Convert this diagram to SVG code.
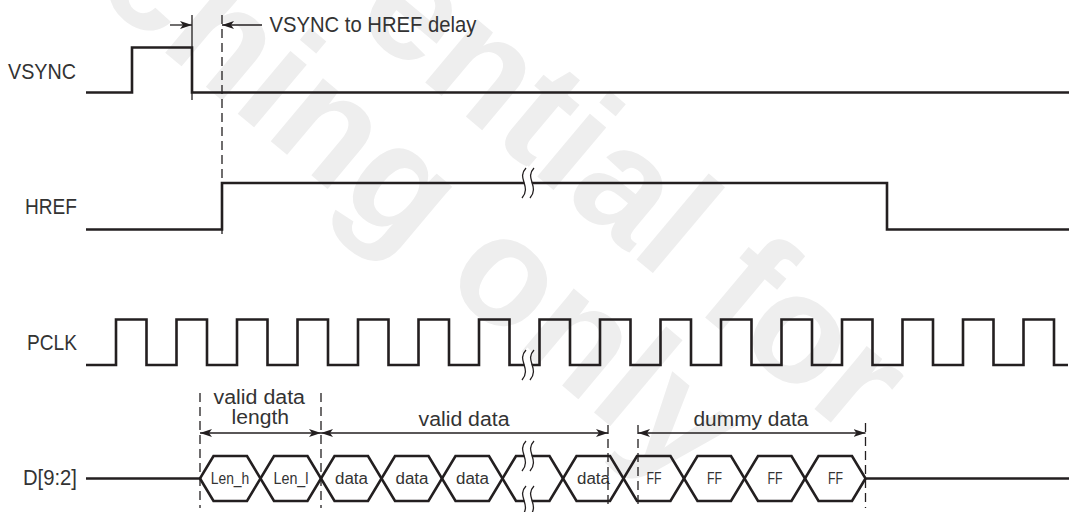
<svg xmlns="http://www.w3.org/2000/svg" width="1079" height="512" viewBox="0 0 1079 512">
<style>
.sig{fill:none;stroke:#231f20;stroke-width:2.6;stroke-linejoin:miter;stroke-linecap:butt}
.thin{fill:none;stroke:#231f20;stroke-width:1.3}
.dash{fill:none;stroke:#231f20;stroke-width:1.3;stroke-dasharray:9 5}
.arr{fill:none;stroke:#231f20;stroke-width:1.3}
.brk{fill:none;stroke:#231f20;stroke-width:1.3}
.brkw{fill:none;stroke:#fff;stroke-width:7}
.lbl{font-family:"Liberation Sans","Noto Sans",sans-serif;font-size:22px;fill:#333}
.ann{font-family:"Liberation Sans","Noto Sans",sans-serif;font-size:20px;fill:#333}
.hx{font-family:"Liberation Sans","Noto Sans",sans-serif;font-size:16px;fill:#333;text-anchor:middle}
.wm{font-family:"Liberation Sans","Noto Sans",sans-serif;font-size:155px;font-weight:bold;fill:#eeeeee}
</style>
<defs>
<marker id="ah" viewBox="0 0 12 8" refX="12" refY="4" markerWidth="12" markerHeight="8" markerUnits="userSpaceOnUse" orient="auto-start-reverse">
<path d="M0,0 L12,4 L0,8 L3,4 Z" fill="#231f20"/>
</marker>
<path id="wave" d="M2,0 C-8,10.5 8,18 -2,30"/>
</defs>
<rect width="1079" height="512" fill="#fff"/>
<g id="watermark">
<text class="wm" transform="translate(351,20) rotate(40)">ential for</text>
<text class="wm" transform="translate(25,-65) rotate(40)">aching only</text>
</g>
<g id="vsync">
<text class="lbl" x="8" y="79" textLength="68" lengthAdjust="spacingAndGlyphs">VSYNC</text>
<path class="sig" d="M86,92.5 H132 V47.5 H192 V92.5 H1069"/>
</g>
<g id="href">
<text class="lbl" x="25" y="214" textLength="52" lengthAdjust="spacingAndGlyphs">HREF</text>
<path class="sig" d="M86,229.5 H222 V183 H887 V229.5 H1069"/>
<g transform="translate(0,168)">
<use href="#wave" x="528" class="brkw"/>
<use href="#wave" x="524" class="brk"/>
<use href="#wave" x="532" class="brk"/>
</g>
</g>
<g id="pclk">
<text class="lbl" x="27" y="350" textLength="50" lengthAdjust="spacingAndGlyphs">PCLK</text>
<path class="sig" d="M86,365 H116 V319.5 H146.5 V365 H176.5 V319.5 H207 V365 H237 V319.5 H267.5 V365 H297.5 V319.5 H328 V365 H358 V319.5 H388.5 V365 H418.5 V319.5 H449 V365 H479 V319.5 H509.5 V365 H539.5 V319.5 H570 V365 H600 V319.5 H630.5 V365 H660.5 V319.5 H691 V365 H721 V319.5 H751.5 V365 H781.5 V319.5 H812 V365 H842 V319.5 H872.5 V365 H902.5 V319.5 H933 V365 H963 V319.5 H993.5 V365 H1023.5 V319.5 H1054 V365 H1068"/>
<g transform="translate(0,350)">
<use href="#wave" x="528" class="brkw"/>
<use href="#wave" x="524" class="brk"/>
<use href="#wave" x="532" class="brk"/>
</g>
</g>
<g id="data-bus">
<text class="lbl" x="23" y="485" textLength="54" lengthAdjust="spacingAndGlyphs">D[9:2]</text>
<path class="sig" d="M86,478.5 H200 L213.5,456 H247 L274,501 H307.5 L334.5,456 H368 L395,501 H428.5 L455.5,456 H489 L516,501 H549.5 L576.5,456 H610 L637,501 H670.5 L697.5,456 H731 L758,501 H791.5 L818.5,456 H852 L865.5,478.5 H1069"/>
<path class="sig" d="M200,478.5 L213.5,501 H247 L274,456 H307.5 L334.5,501 H368 L395,456 H428.5 L455.5,501 H489 L516,456 H549.5 L576.5,501 H610 L637,456 H670.5 L697.5,501 H731 L758,456 H791.5 L818.5,501 H852 L865.5,478.5"/>
<g transform="translate(0,441)">
<use href="#wave" x="528" class="brkw"/>
<use href="#wave" x="524" class="brk"/>
<use href="#wave" x="532" class="brk"/>
</g>
<g transform="translate(0,486)">
<use href="#wave" x="528" class="brkw"/>
<use href="#wave" x="524" class="brk"/>
<use href="#wave" x="532" class="brk"/>
</g>
<text class="hx" x="230" y="483.5" textLength="38.5" lengthAdjust="spacingAndGlyphs">Len_h</text>
<text class="hx" x="291" y="483.5" textLength="35" lengthAdjust="spacingAndGlyphs">Len_l</text>
<text class="hx" x="351.5" y="483.5" textLength="33" lengthAdjust="spacingAndGlyphs">data</text>
<text class="hx" x="412" y="483.5" textLength="33" lengthAdjust="spacingAndGlyphs">data</text>
<text class="hx" x="472.5" y="483.5" textLength="33" lengthAdjust="spacingAndGlyphs">data</text>
<text class="hx" x="593.5" y="483.5" textLength="33" lengthAdjust="spacingAndGlyphs">data</text>
<text class="hx" x="654" y="483.5" textLength="15" lengthAdjust="spacingAndGlyphs">FF</text>
<text class="hx" x="714.5" y="483.5" textLength="15" lengthAdjust="spacingAndGlyphs">FF</text>
<text class="hx" x="775" y="483.5" textLength="15" lengthAdjust="spacingAndGlyphs">FF</text>
<text class="hx" x="835.5" y="483.5" textLength="15" lengthAdjust="spacingAndGlyphs">FF</text>
</g>
<g id="connectors">
<line class="thin" x1="192" y1="15" x2="192" y2="47.5"/>
<line class="thin" x1="192" y1="92.5" x2="192" y2="100"/>
<line class="dash" x1="222" y1="15" x2="222" y2="237"/>
<line class="arr" x1="170" y1="25" x2="192" y2="25" marker-end="url(#ah)"/>
<line class="arr" x1="262" y1="25" x2="222" y2="25" marker-end="url(#ah)"/>
<line class="dash" x1="200" y1="393" x2="200" y2="508"/>
<line class="dash" x1="321" y1="393" x2="321" y2="508"/>
<line class="dash" x1="608" y1="425" x2="608" y2="508"/>
<line class="dash" x1="638" y1="425" x2="638" y2="508"/>
<line class="dash" x1="865.5" y1="423" x2="865.5" y2="508"/>
<line class="arr" x1="200" y1="433" x2="321" y2="433" marker-start="url(#ah)" marker-end="url(#ah)"/>
<line class="arr" x1="321" y1="433" x2="608" y2="433" marker-start="url(#ah)" marker-end="url(#ah)"/>
<line class="arr" x1="638" y1="433" x2="865.5" y2="433" marker-start="url(#ah)" marker-end="url(#ah)"/>
</g>
<g id="annotations">
<text class="lbl" x="269.5" y="32.3" textLength="207" lengthAdjust="spacingAndGlyphs">VSYNC to HREF delay</text>
<text class="ann" x="213.5" y="403.5" textLength="91.5" lengthAdjust="spacingAndGlyphs">valid data</text>
<text class="ann" x="231.5" y="423.5" textLength="57.5" lengthAdjust="spacingAndGlyphs">length</text>
<text class="ann" x="418.5" y="425.7" textLength="91" lengthAdjust="spacingAndGlyphs">valid data</text>
<text class="ann" x="693.5" y="425.7" textLength="115" lengthAdjust="spacingAndGlyphs">dummy data</text>
</g>
</svg>
